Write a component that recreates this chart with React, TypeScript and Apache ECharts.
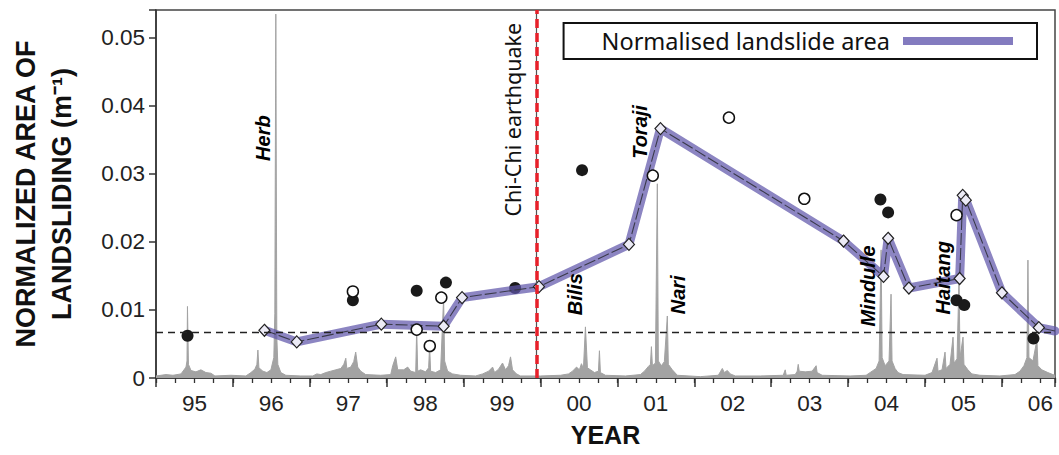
import React, { useEffect, useRef } from 'react';
import * as echarts from 'echarts';

// Daily rainfall record (grey), [year, value on landslide axis]
const rainfall: [number, number][] = [
  [1995.0, 0.0003], [1995.13, 0.0005], [1995.221, 0.0004], [1995.325, 0.0006], [1995.364, 0.0012],
  [1995.39, 0.0016], [1995.403, 0.0025], [1995.409, 0.0105], [1995.422, 0.002], [1995.455, 0.0011],
  [1995.519, 0.0009], [1995.584, 0.0012], [1995.649, 0.0008], [1995.714, 0.0007], [1995.766, 0.0003],
  [1995.974, 0.0004], [1996.169, 0.0003], [1996.234, 0.0008], [1996.286, 0.0013], [1996.312, 0.002],
  [1996.325, 0.0041], [1996.338, 0.0015], [1996.39, 0.001], [1996.442, 0.0008], [1996.494, 0.0012],
  [1996.532, 0.003], [1996.545, 0.0095], [1996.558, 0.0534], [1996.571, 0.006], [1996.584, 0.002],
  [1996.623, 0.0008], [1996.688, 0.0004], [1996.883, 0.0003], [1997.039, 0.0003], [1997.091, 0.0006],
  [1997.143, 0.0005], [1997.208, 0.0008], [1997.273, 0.001], [1997.338, 0.0012], [1997.403, 0.0014],
  [1997.442, 0.002], [1997.468, 0.0029], [1997.481, 0.0014], [1997.532, 0.0016], [1997.571, 0.0024],
  [1997.597, 0.0038], [1997.623, 0.0016], [1997.662, 0.001], [1997.727, 0.0005], [1997.922, 0.0004],
  [1998.052, 0.0005], [1998.078, 0.0018], [1998.117, 0.0031], [1998.143, 0.0012], [1998.221, 0.0012],
  [1998.273, 0.0016], [1998.312, 0.001], [1998.377, 0.0008], [1998.39, 0.0072], [1998.403, 0.001],
  [1998.442, 0.0012], [1998.506, 0.0009], [1998.545, 0.0015], [1998.558, 0.0047], [1998.571, 0.001],
  [1998.636, 0.0008], [1998.701, 0.0012], [1998.74, 0.0117], [1998.753, 0.0025], [1998.792, 0.001],
  [1998.857, 0.0006], [1998.961, 0.0004], [1999.156, 0.0003], [1999.247, 0.0006], [1999.325, 0.001],
  [1999.377, 0.0016], [1999.403, 0.0008], [1999.455, 0.0013], [1999.506, 0.0022], [1999.545, 0.0012],
  [1999.584, 0.0018], [1999.61, 0.0031], [1999.636, 0.0012], [1999.688, 0.0006], [1999.74, 0.0003],
  [2000.0, 0.0003], [2000.26, 0.0004], [2000.364, 0.0006], [2000.416, 0.001], [2000.468, 0.0016],
  [2000.506, 0.0012], [2000.532, 0.0021], [2000.558, 0.0014], [2000.584, 0.0075], [2000.61, 0.0015],
  [2000.649, 0.0012], [2000.701, 0.0008], [2000.753, 0.001], [2000.766, 0.004], [2000.779, 0.0008],
  [2000.844, 0.0004], [2001.104, 0.0003], [2001.299, 0.0005], [2001.351, 0.001], [2001.403, 0.0017],
  [2001.429, 0.002], [2001.442, 0.0046], [2001.455, 0.0018], [2001.494, 0.0022], [2001.519, 0.0285],
  [2001.532, 0.0025], [2001.571, 0.0018], [2001.61, 0.0024], [2001.649, 0.0091], [2001.662, 0.002],
  [2001.714, 0.0012], [2001.779, 0.0004], [2002.078, 0.0002], [2002.312, 0.0004], [2002.338, 0.0009],
  [2002.364, 0.0014], [2002.39, 0.0008], [2002.429, 0.0011], [2002.468, 0.0006], [2002.532, 0.0003],
  [2002.857, 0.0003], [2003.156, 0.0004], [2003.182, 0.0012], [2003.195, 0.0004], [2003.312, 0.0005],
  [2003.338, 0.001], [2003.351, 0.002], [2003.364, 0.001], [2003.442, 0.0009], [2003.532, 0.001],
  [2003.584, 0.0018], [2003.597, 0.0008], [2003.662, 0.0004], [2004.026, 0.0003], [2004.234, 0.0004],
  [2004.312, 0.001], [2004.364, 0.0014], [2004.403, 0.0025], [2004.429, 0.0188], [2004.442, 0.003],
  [2004.481, 0.0018], [2004.532, 0.0025], [2004.558, 0.0123], [2004.571, 0.0025], [2004.61, 0.0014],
  [2004.649, 0.0008], [2004.714, 0.0005], [2005.0, 0.0004], [2005.091, 0.0008], [2005.156, 0.0029],
  [2005.169, 0.001], [2005.221, 0.0012], [2005.26, 0.0038], [2005.273, 0.0014], [2005.325, 0.002],
  [2005.364, 0.006], [2005.377, 0.0022], [2005.416, 0.0028], [2005.442, 0.0146], [2005.455, 0.003],
  [2005.494, 0.006], [2005.506, 0.002], [2005.558, 0.0012], [2005.61, 0.0006], [2005.714, 0.0004],
  [2005.974, 0.0003], [2006.169, 0.0005], [2006.234, 0.001], [2006.286, 0.0018], [2006.325, 0.003],
  [2006.338, 0.0173], [2006.351, 0.003], [2006.403, 0.0025], [2006.455, 0.0056], [2006.468, 0.0018],
  [2006.519, 0.0012], [2006.597, 0.0008], [2006.662, 0.0005], [2006.69, 0.0004],
];

// Normalised landslide area (purple line with diamonds)
const landslideX = [1996.41, 1996.83, 1997.93, 1998.74, 1998.98, 1999.98, 2001.15, 2001.56, 2003.94, 2004.46, 2004.52, 2004.79, 2005.45, 2005.49, 2005.53, 2006.0, 2006.48, 2006.69];
const landslideY = [0.0070, 0.0053, 0.0079, 0.0076, 0.0118, 0.0134, 0.0196, 0.0366, 0.0201, 0.0149, 0.0205, 0.0132, 0.0146, 0.0268, 0.0261, 0.0125, 0.0074, 0.0069];
const landslideMarked = [true, true, true, true, true, true, true, true, true, true, true, true, true, true, true, true, true, false];

// Filled circles
const filledX = [1995.41, 1997.56, 1998.39, 1998.77, 1999.67, 2000.54, 2004.42, 2004.52, 2005.41, 2005.51, 2006.41];
const filledY = [0.0062, 0.0114, 0.0128, 0.0140, 0.0132, 0.0305, 0.0262, 0.0243, 0.0114, 0.0107, 0.0058];

// Open circles
const openX = [1997.56, 1998.39, 1998.56, 1998.71, 2001.46, 2002.45, 2003.43, 2005.41];
const openY = [0.0127, 0.0071, 0.0047, 0.0118, 0.0297, 0.0382, 0.0263, 0.0239];

// Typhoon annotations
const typhoonNames = ['Herb', 'Bilis', 'Toraji', 'Nari', 'Mindulle', 'Haitang'];
const typhoonX = [1996.39, 2000.45, 2001.3, 2001.79, 2004.26, 2005.23];
const typhoonY = [0.0352, 0.0123, 0.0361, 0.0122, 0.0135, 0.0147];

const earthquakeName = 'Chi-Chi earthquake';
const earthquakeYear = 1999.95;
const earthquakeLabelX = 1999.64;
const earthquakeLabelY = 0.0379;
const thresholdValue = 0.00675;

const seriesName = 'Normalised landslide area';
const xMin = 1995;
const xMax = 2006.69;
const yMax = 0.054;

const yearLabel = (v: number) => {
  const f = v - Math.floor(v);
  if (Math.abs(f - 0.5) < 1e-6) return String(Math.floor(v) % 100).padStart(2, '0');
  return '';
};
const yLabel = (v: number) => {
  if (Math.abs(v * 100 - Math.round(v * 100)) > 1e-6) return '';
  return v === 0 ? '0' : v.toFixed(2);
};

const axisColor = '#333';
const tickFont = 'Liberation Sans';

export default function App() {
  const ref = useRef<HTMLDivElement>(null);
  useEffect(() => {
    const chart = echarts.init(ref.current!, null, { renderer: 'svg' });
    const baseX = {
      type: 'value', min: xMin, max: xMax, position: 'bottom',
      splitLine: { show: false },
    };
    const option: any = {
      animation: false,
      grid: { left: 155, right: 4, top: 10, bottom: 77, show: true, borderColor: '#444', borderWidth: 1.5, backgroundColor: 'transparent' },
      legend: {
        data: [seriesName],
        right: 22, top: 23,
        align: 'right',
        icon: 'rect',
        itemWidth: 110, itemHeight: 8,
        borderColor: '#111', borderWidth: 2, borderRadius: 0,
        padding: [6, 24, 6, 38],
        backgroundColor: '#fff',
        selectedMode: false,
        textStyle: { fontFamily: 'Noto Sans', fontSize: 23.5, color: '#111', padding: [0, 8, 0, 0] },
      },
      xAxis: [
        {
          ...baseX, interval: 0.25,
          axisLine: { show: true, lineStyle: { color: axisColor, width: 1.5 } },
          axisTick: { show: true, length: 5, lineStyle: { color: axisColor, width: 1.3 } },
          axisLabel: { show: false },
        },
        {
          ...baseX, interval: 1,
          axisLine: { show: false },
          axisTick: { show: true, length: 9, lineStyle: { color: axisColor, width: 1.5 } },
          axisLabel: { show: false },
        },
        {
          ...baseX, interval: 0.5,
          axisLine: { show: false },
          axisTick: { show: false },
          axisLabel: { show: true, margin: 14, fontSize: 22.5, fontFamily: tickFont, color: '#222', formatter: yearLabel, showMinLabel: true, showMaxLabel: true, hideOverlap: false },
          name: 'YEAR', nameLocation: 'middle', nameGap: 44,
          nameTextStyle: { fontFamily: tickFont, fontWeight: 'bold', fontSize: 25, color: '#111' },
        },
      ],
      yAxis: {
        type: 'value', min: 0, max: yMax, interval: 0.01,
        axisLine: { show: true, lineStyle: { color: axisColor, width: 1.5 } },
        axisTick: { show: true, length: 7, lineStyle: { color: axisColor, width: 1.5 } },
        axisLabel: { margin: 11, fontSize: 22.5, fontFamily: tickFont, color: '#222', formatter: yLabel },
        splitLine: { show: false },
        name: 'NORMALIZED AREA OF\nLANDSLIDING (m\u207B\u00B9)',
        nameLocation: 'middle', nameGap: 76, nameRotate: 90,
        nameTextStyle: { fontFamily: tickFont, fontWeight: 'bold', fontSize: 27, lineHeight: 36, color: '#111' },
      },
      series: [
        {
          type: 'line', data: rainfall, symbol: 'none', silent: true, z: 1,
          lineStyle: { color: '#a3a3a3', width: 1 },
          areaStyle: { color: '#a3a3a3', opacity: 1 },
        },
        {
          type: 'line', data: [], z: 2, silent: true,
          markLine: {
            symbol: 'none', silent: true, label: { show: false }, precision: 6,
            lineStyle: { color: '#222', type: [7, 5], width: 1.3 },
            data: [{ yAxis: thresholdValue }],
          },
        },
        {
          type: 'scatter', z: 2, silent: true, symbolSize: 12,
          itemStyle: { color: '#1a1a1a', opacity: 1 },
          data: filledX.map((x, i) => [x, filledY[i]]),
        },
        {
          name: seriesName, type: 'line', z: 3, silent: true, symbol: 'none',
          data: landslideX.map((x, i) => [x, landslideY[i]]),
          itemStyle: { color: '#837bbf' },
          lineStyle: { color: '#5f56ab', width: 9, opacity: 0.72, cap: 'round', join: 'round' },
        },
        {
          type: 'line', z: 4, silent: true, symbol: 'diamond', symbolSize: [11, 12],
          data: landslideX.map((x, i) => (landslideMarked[i] ? [x, landslideY[i]] : { value: [x, landslideY[i]], symbol: 'none' })),
          itemStyle: { color: '#ecebf6', borderColor: '#222', borderWidth: 1.2 },
          lineStyle: { color: '#3a3a4a', width: 1.1, type: [12, 3] },
        },
        {
          type: 'scatter', z: 5, silent: true, symbolSize: 11,
          itemStyle: { color: '#fff', borderColor: '#111', borderWidth: 1.5, opacity: 1 },
          data: openX.map((x, i) => [x, openY[i]]),
        },
        {
          type: 'line', data: [], z: 6, silent: true,
          markLine: {
            symbol: 'none', silent: true, label: { show: false }, precision: 6,
            data: [
              { xAxis: earthquakeYear, lineStyle: { color: '#555', type: 'solid', width: 1.2 } },
              { xAxis: earthquakeYear, lineStyle: { color: '#e8202a', type: [9, 5], width: 3.5 } },
            ],
          },
        },
        {
          type: 'scatter', z: 7, silent: true, symbolSize: 1,
          itemStyle: { color: 'rgba(0,0,0,0)', opacity: 1 },
          label: {
            show: true, position: 'inside', rotate: 90, formatter: '{b}',
            fontFamily: tickFont, fontWeight: 'bold', fontStyle: 'italic', fontSize: 20, color: '#000',
          },
          data: typhoonNames.map((n, i) => ({ name: n, value: [typhoonX[i], typhoonY[i]] })),
        },
        {
          type: 'scatter', z: 7, silent: true, symbolSize: 1,
          itemStyle: { color: 'rgba(0,0,0,0)', opacity: 1 },
          label: {
            show: true, position: 'inside', rotate: 90, formatter: '{b}',
            fontFamily: 'Noto Sans', fontSize: 21.5, color: '#111',
          },
          data: [{ name: earthquakeName, value: [earthquakeLabelX, earthquakeLabelY] }],
        },
      ],
    };
    chart.setOption(option);
    return () => chart.dispose();
  }, []);
  return <div ref={ref} style={{ position: 'fixed', left: 0, top: 0, width: 1059, height: 455, background: '#fff' }} />;
}
